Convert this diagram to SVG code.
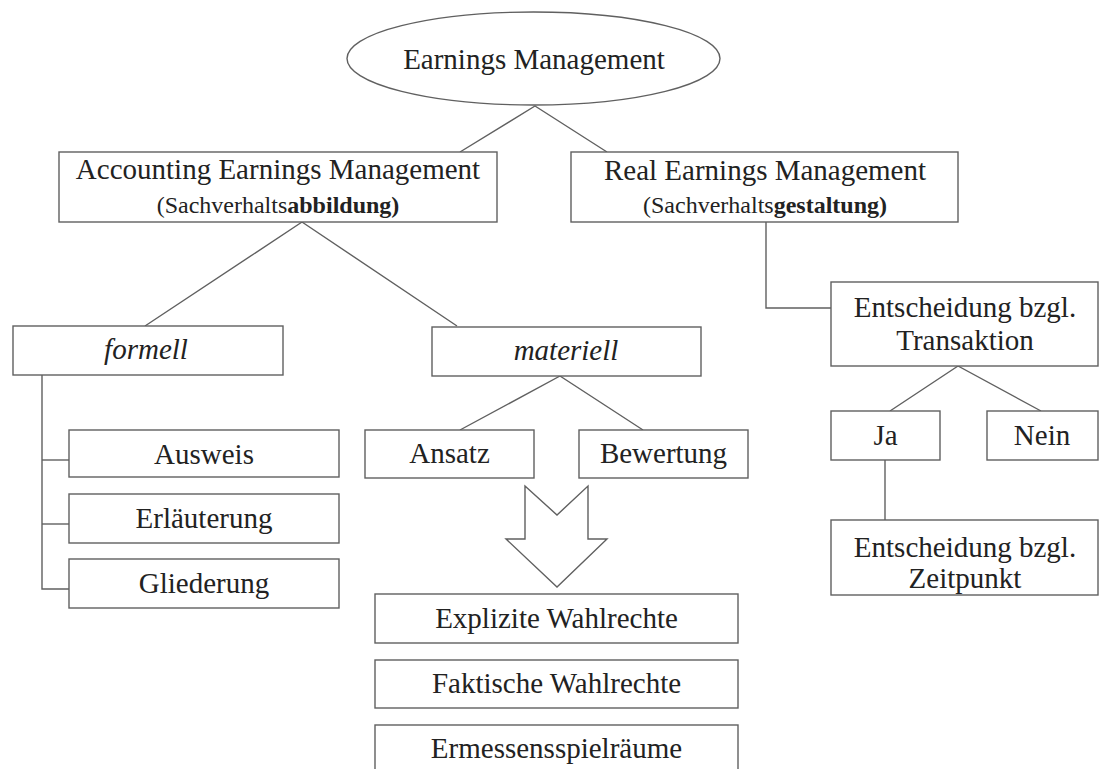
<svg xmlns="http://www.w3.org/2000/svg" width="1099" height="769" viewBox="0 0 1099 769">
<style>
.b{fill:#fff;stroke:#606060;stroke-width:1.4}
.c{fill:none;stroke:#606060;stroke-width:1.4}
text{font-family:"Liberation Serif","Times New Roman",serif;font-size:29px;fill:#222;text-anchor:middle}
.s{font-size:24px}
.i{font-style:italic}
</style>
<rect width="1099" height="769" fill="#fff"/>
<g id="connectors">
<polyline class="c" points="460,152 535,106 607,152"/>
<polyline class="c" points="145,326 302,222 457,326"/>
<polyline class="c" points="460,430 560,376 643,430"/>
<polyline class="c" points="766,222 766,308 831,308"/>
<polyline class="c" points="42,375 42,589 69,589"/>
<line class="c" x1="42" y1="460" x2="69" y2="460"/>
<line class="c" x1="42" y1="524" x2="69" y2="524"/>
<polyline class="c" points="890,411 958,366 1041,411"/>
<line class="c" x1="885" y1="460" x2="885" y2="520"/>
<polygon class="b" points="525,486 557,515 588,486 588,539 607,539 557,587 506,539 525,539"/>
</g>
<g id="earnings"><ellipse class="b" cx="533.5" cy="58.5" rx="186.5" ry="46.5"/><text x="534" y="69">Earnings Management</text></g>
<g id="accounting"><rect class="b" x="59" y="152" width="438" height="70"/><text x="278" y="179">Accounting Earnings Management</text><text class="s" x="278" y="213">(Sachverhalts<tspan font-weight="bold">abbildung)</tspan></text></g>
<g id="real"><rect class="b" x="571" y="152" width="387" height="70"/><text x="765" y="180">Real Earnings Management</text><text class="s" x="765" y="213">(Sachverhalts<tspan font-weight="bold">gestaltung)</tspan></text></g>
<g id="formell"><rect class="b" x="13" y="326" width="270" height="49"/><text class="i" x="146" y="359">formell</text></g>
<g id="materiell"><rect class="b" x="432" y="327" width="269" height="49"/><text class="i" x="566" y="360">materiell</text></g>
<g id="ausweis"><rect class="b" x="69" y="430" width="270" height="47"/><text x="204" y="464">Ausweis</text></g>
<g id="erlaeuterung"><rect class="b" x="69" y="494" width="270" height="49"/><text x="204" y="528">Erläuterung</text></g>
<g id="gliederung"><rect class="b" x="69" y="559" width="270" height="49"/><text x="204" y="593">Gliederung</text></g>
<g id="ansatz"><rect class="b" x="365" y="430" width="169" height="48"/><text x="449.5" y="463">Ansatz</text></g>
<g id="bewertung"><rect class="b" x="579" y="430" width="169" height="48"/><text x="663.5" y="463">Bewertung</text></g>
<g id="explizite"><rect class="b" x="375" y="594" width="363" height="49"/><text x="556.5" y="628">Explizite Wahlrechte</text></g>
<g id="faktische"><rect class="b" x="375" y="660" width="363" height="48"/><text x="556.5" y="693">Faktische Wahlrechte</text></g>
<g id="ermessen"><rect class="b" x="375" y="725" width="363" height="60"/><text x="556.5" y="758">Ermessensspielräume</text></g>
<g id="transaktion"><rect class="b" x="831" y="282" width="267" height="84"/><text x="965" y="317">Entscheidung bzgl.</text><text x="965" y="350">Transaktion</text></g>
<g id="ja"><rect class="b" x="831" y="411" width="109" height="49"/><text x="885.5" y="445">Ja</text></g>
<g id="nein"><rect class="b" x="987" y="411" width="111" height="49"/><text x="1042" y="445">Nein</text></g>
<g id="zeitpunkt"><rect class="b" x="831" y="520" width="267" height="75"/><text x="965" y="557">Entscheidung bzgl.</text><text x="965" y="588">Zeitpunkt</text></g>
</svg>
